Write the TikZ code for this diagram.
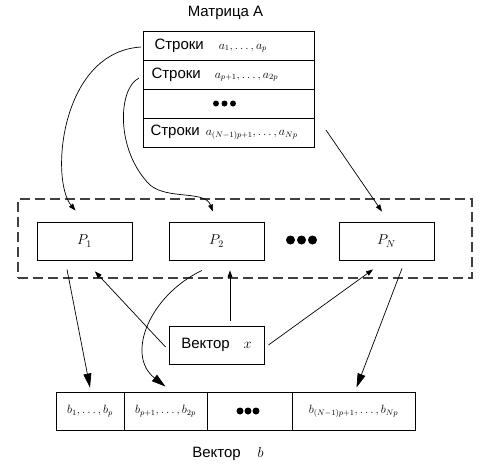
\documentclass[tikz,border=0pt]{standalone}
\usepackage{fontspec}
\setmainfont{Liberation Sans}
\usetikzlibrary{arrows.meta}
\newcommand\mymath[1]{{\fontsize{12}{14}\selectfont$#1$}}
\begin{document}
\begin{tikzpicture}[x=1pt,y=-1pt,
  box/.style={draw, line width=0.9pt, inner sep=0pt},
  rowbox/.style={box, minimum width=171pt, minimum height=29pt, text width=157pt, align=left, font=\fontsize{15}{18}\selectfont},
  pbox/.style={box, minimum width=95pt, minimum height=38pt, font=\fontsize{14}{16}\selectfont},
  cell/.style={box, minimum height=38pt},
  lbl/.style={inner sep=0pt, font=\fontsize{15}{18}\selectfont},
  conn/.style={line width=0.7pt},
  small/.style={conn, -{Triangle[length=7pt,width=5pt]}},
  big/.style={conn, -{Triangle[length=14pt,width=8pt]}},
  dotfill/.style={fill=black}
]
\useasboundingbox (0,0) rectangle (483,464);

% title
\node[lbl] (title) at (225.5,12.5) {Матрица А};

% matrix rows
\node[rowbox] (r1) at (229,45.5) {\hspace{4pt}Строки\hspace{15pt}\mymath{a_1,\ldots,a_p}};
\node[rowbox] (r2) at (229,74.5) {\hspace{1pt}Строки\hspace{14pt}\mymath{a_{p+1},\ldots,a_{2p}}};
\node[rowbox] (r3) at (229,103.5) {};
\node[rowbox] (r4) at (229,132.5) {Строки\hspace{6pt}\mymath{a_{(N-1)p+1},\ldots,a_{Np}}};
\fill[dotfill] (216,103.5) circle (3) (224.5,103.5) circle (3) (233,103.5) circle (3);

% processors
\node[draw=black!75, line width=1.2pt, dash pattern=on 10pt off 5pt, minimum width=454pt, minimum height=79pt, inner sep=0pt] (frame) at (245,238.5) {};
\node[pbox] (P1) at (84.5,241) {$P_1$};
\node[pbox] (P2) at (216.5,241) {$P_2$};
\node[pbox] (PN) at (386.5,241) {$P_N$};
\fill[dotfill] (290.5,240) circle (4.5) (301.5,240) circle (4.5) (312.5,240) circle (4.5);

% vector x
\node[pbox, minimum height=38pt, font=\fontsize{15}{18}\selectfont] (vx) at (216.5,345) {Вектор\hspace{14pt}{\fontsize{14}{16}\selectfont$x$}};

% vector b
\node[cell, minimum width=68pt] (b1) at (90,411) {\mymath{b_1,\ldots,b_p}};
\node[cell, minimum width=83pt] (b2) at (165.5,411) {\mymath{b_{p+1},\ldots,b_{2p}}};
\node[cell, minimum width=85pt] (b3) at (249.5,411) {};
\node[cell, minimum width=123pt] (b4) at (353.5,411) {\mymath{b_{(N-1)p+1},\ldots,b_{Np}}};
\fill[dotfill] (240,411) circle (3.5) (248,411) circle (3.5) (256,411) circle (3.5);
\node[lbl] (vb) at (228,454) {Вектор\hspace{17pt}{\fontsize{14}{16}\selectfont$b$}};

% connectors
\draw[small] ([shift={(-2,1.5)}]r1.west) .. controls (60,52) and (50,180) .. ([shift={(-9,-11)}]P1.north);
\draw[conn] ([shift={(-4,3.5)}]r2.west) .. controls (118,88) and (115,150) .. (150,185) coordinate (c2);
\draw[small] (c2) .. controls (168,200) and (205,190) .. ([shift={(-3.5,-10)}]P2.north);
\draw[small] ([shift={(11,-2.5)}]r4.east) -- ([shift={(-4.5,-10)}]PN.north);

\draw[big] ([shift={(-17.5,9)}]P1.south) -- ([shift={(0,-4)}]b1.north);
\draw[small] ([shift={(-3,2)}]vx.west) -- ([shift={(10.5,11)}]P1.south);
\draw[big] ([shift={(-14.5,10)}]P2.south) .. controls (150,295) and (125,355) .. ([shift={(0,-5)}]b2.north);
\draw[small] ([shift={(13.5,-5)}]vx.north) -- ([shift={(13.5,10)}]P2.south);
\draw[small] ([shift={(4,0)}]vx.east) -- ([shift={(-13.5,9)}]PN.south);
\draw[big] ([shift={(15.5,8)}]PN.south) -- ([shift={(3,-4)}]b4.north);
\end{tikzpicture}
\end{document}
